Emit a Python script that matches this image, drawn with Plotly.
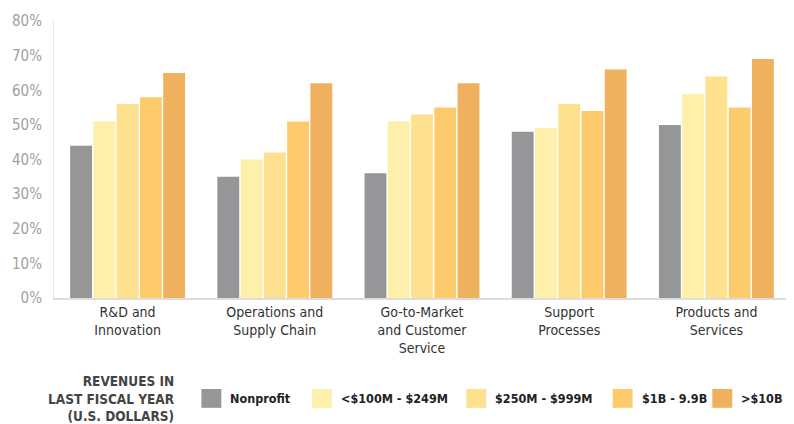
import plotly.graph_objects as go

categories = ["R&D and<br>Innovation", "Operations and<br>Supply Chain",
              "Go-to-Market<br>and Customer<br>Service", "Support<br>Processes",
              "Products and<br>Services"]
series_names = ["Nonprofit", "<$100M - $249M", "$250M - $999M", "$1B - 9.9B", ">$10B"]
nonprofit = [44, 35, 36, 48, 50]
rev_100m = [51, 40, 51, 49, 59]
rev_250m = [56, 42, 53, 56, 64]
rev_1b = [58, 51, 55, 54, 55]
rev_10b = [65, 62, 62, 66, 69]
series_values = [nonprofit, rev_100m, rev_250m, rev_1b, rev_10b]
colors = ["#969699", "#FEEFAB", "#FDE18E", "#FDCB6B", "#EFB15E"]
y_ticks = [0, 10, 20, 30, 40, 50, 60, 70, 80]
y_tick_labels = [f"{v}%" for v in y_ticks]
legend_title = "REVENUES IN<br>LAST FISCAL YEAR<br>(U.S. DOLLARS)"

FONT = "DejaVu Sans Condensed, Liberation Sans Narrow, sans-serif"
# page body has an 8px margin, so the figure is drawn 8px smaller / shifted
OFF = 8
W, H = 794 - OFF, 424 - OFF
ML, MR, MT, MB = 51 - OFF, 4, 18 - OFF, 126
PW, PH = W - ML - MR, H - MT - MB

def px(x):
    # reference pixel x -> paper coordinate
    return (x - OFF - ML) / PW

def py(y):
    # reference pixel y -> paper coordinate
    return (H - MB - (y - OFF)) / PH

fig = go.Figure()
for name, vals, col in zip(series_names, series_values, colors):
    fig.add_trace(go.Bar(x=categories, y=vals, name=name, marker_color=col,
                         marker_line_width=0, showlegend=False))

fig.update_layout(
    width=W, height=H,
    margin=dict(l=ML, r=MR, t=MT, b=MB),
    paper_bgcolor="white", plot_bgcolor="white",
    barmode="group", bargap=0.21, bargroupgap=0.06,
    font=dict(family=FONT, size=14, color="#333333"),
)
fig.update_yaxes(range=[0, 80], tickvals=y_ticks, ticktext=y_tick_labels,
                 showgrid=False, zeroline=False, showline=True,
                 linecolor="#e6e6e6", linewidth=1, ticks="",
                 tickfont=dict(family=FONT, size=15, color="#a0a0a0"),
                 ticklabelstandoff=8)
fig.update_xaxes(showgrid=False, showline=True, linecolor="#dddddd", linewidth=2,
                 ticks="", tickfont=dict(family=FONT, size=14, color="#333333"))

# legend title
fig.add_annotation(x=px(175), y=py(400), xref="paper", yref="paper",
                   text="<b>" + legend_title + "</b>", showarrow=False,
                   xanchor="right", yanchor="middle", align="right",
                   font=dict(family=FONT, size=13.5, color="#444444"))

swatch_x = [199, 310, 465, 612, 712]
for name, col, sx in zip(series_names, colors, swatch_x):
    fig.add_shape(type="rect", xref="paper", yref="paper",
                  x0=px(sx), x1=px(sx + 20), y0=py(409), y1=py(390),
                  fillcolor=col, line_width=0)
    fig.add_annotation(x=px(sx + 27), y=py(400), xref="paper", yref="paper",
                       text="<b>" + name + "</b>", showarrow=False,
                       xanchor="left", yanchor="middle",
                       font=dict(family=FONT, size=12.5, color="#222222"))

fig.write_html("out.html")
